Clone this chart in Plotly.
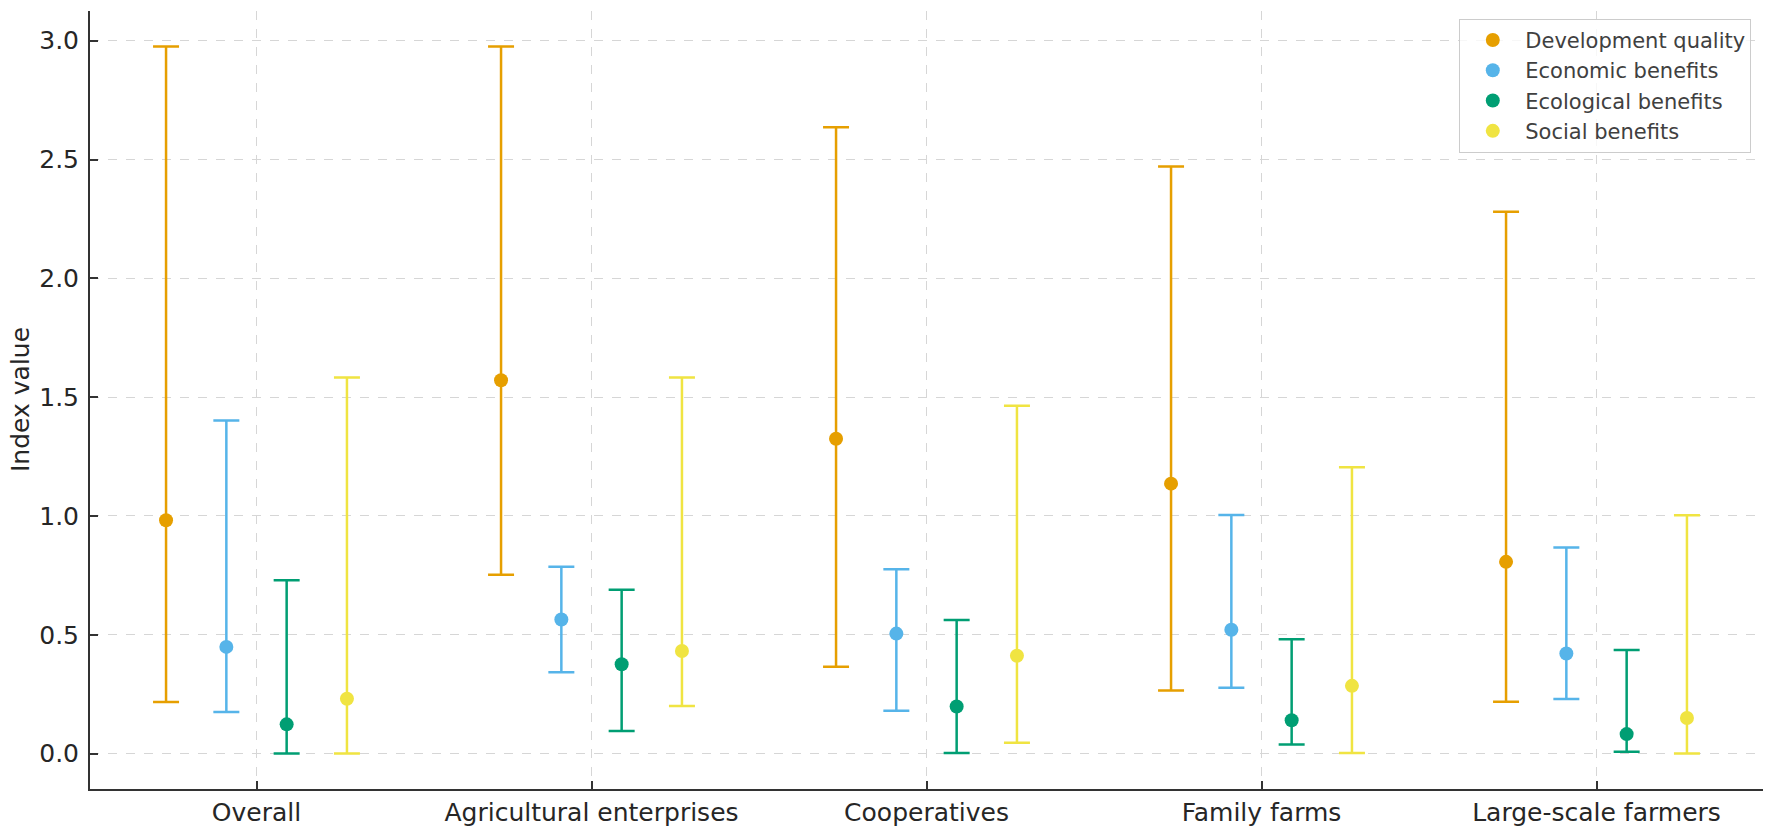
"""Index value ranges (min / mean / max) by farm type."""

import plotly.graph_objects as go

# Data
categories = [
    "Overall",
    "Agricultural enterprises",
    "Cooperatives",
    "Family farms",
    "Large-scale farmers",
]

dev_mean = [0.982, 1.571, 1.325, 1.136, 0.807]
dev_min = [0.217, 0.753, 0.365, 0.265, 0.218]
dev_max = [2.976, 2.976, 2.636, 2.471, 2.280]

econ_mean = [0.449, 0.564, 0.505, 0.521, 0.421]
econ_min = [0.175, 0.342, 0.180, 0.277, 0.230]
econ_max = [1.402, 0.786, 0.776, 1.004, 0.867]

eco_mean = [0.123, 0.376, 0.198, 0.140, 0.082]
eco_min = [0.000, 0.095, 0.003, 0.038, 0.008]
eco_max = [0.729, 0.690, 0.562, 0.481, 0.436]

soc_mean = [0.231, 0.432, 0.412, 0.285, 0.150]
soc_min = [0.000, 0.200, 0.046, 0.003, 0.000]
soc_max = [1.583, 1.583, 1.464, 1.205, 1.003]

series = [
    ("Development quality", dev_mean, dev_min, dev_max, "#E69F00"),
    ("Economic benefits", econ_mean, econ_min, econ_max, "#56B4E9"),
    ("Ecological benefits", eco_mean, eco_min, eco_max, "#009E73"),
    ("Social benefits", soc_mean, soc_min, soc_max, "#F0E442"),
]

# Styling
FONT = "DejaVu Sans"
TICK_FONTSIZE = 25
LABEL_FONTSIZE = 25
LEGEND_FONTSIZE = 21
STEP = 0.18  # horizontal spacing between series within a group
AXIS_COLOR = "#333333"

fig = go.Figure()

for i, (name, mean, lo, hi, color) in enumerate(series):
    offset = (i - 1.5) * STEP
    fig.add_trace(
        go.Scatter(
            x=[k + offset for k in range(len(categories))],
            y=mean,
            name=name,
            mode="markers",
            marker={"color": color, "size": 14},
            error_y={
                "type": "data",
                "symmetric": False,
                "array": [h - m for h, m in zip(hi, mean)],
                "arrayminus": [m - l for m, l in zip(mean, lo)],
                "color": color,
                "thickness": 2.5,
                "width": 13,
            },
        )
    )

grid = {"showgrid": True, "gridcolor": "#d6d6d6", "griddash": "dash", "gridwidth": 1}
axis_line = {
    "ticks": "inside",
    "ticklen": 8,
    "tickwidth": 1.5,
    "tickcolor": AXIS_COLOR,
    "showline": True,
    "linecolor": AXIS_COLOR,
    "linewidth": 2,
    "zeroline": False,
    "automargin": False,
}

fig.update_layout(
    width=1772,
    height=830,
    paper_bgcolor="white",
    plot_bgcolor="white",
    font={"family": FONT, "color": "#262626", "size": TICK_FONTSIZE},
    margin={"l": 90, "r": 9, "t": 11, "b": 41, "pad": 0},
    showlegend=True,
    legend={
        "x": 0.993,
        "y": 0.99,
        "xanchor": "right",
        "yanchor": "top",
        "itemwidth": 55,
        "font": {"size": LEGEND_FONTSIZE, "color": "#404040"},
        "bgcolor": "rgba(255, 255, 255, 0.8)",
        "bordercolor": "#cccccc",
        "borderwidth": 1,
    },
    xaxis={
        **grid,
        **axis_line,
        "range": [-0.497, 4.497],
        "tickmode": "array",
        "tickvals": list(range(len(categories))),
        "ticktext": categories,
        "ticklabelstandoff": 0,
    },
    yaxis={
        **grid,
        **axis_line,
        "range": [-0.149, 3.125],
        "tickmode": "array",
        "tickvals": [0, 0.5, 1.0, 1.5, 2.0, 2.5, 3.0],
        "tickformat": ".1f",
        "ticklabelstandoff": 4,
    },
    annotations=[
        {
            "text": "Index value",
            "xref": "paper",
            "yref": "paper",
            "x": -70 / 1673,
            "y": 0.5,
            "xanchor": "center",
            "yanchor": "middle",
            "textangle": -90,
            "showarrow": False,
            "font": {"size": LABEL_FONTSIZE, "color": "#262626"},
        }
    ],
)

# drop the browser's default body margin so the figure sits at the window origin
fig.write_html(
    "out.html",
    config={"displayModeBar": False},
    post_script="document.body.style.margin = '0px';",
)
